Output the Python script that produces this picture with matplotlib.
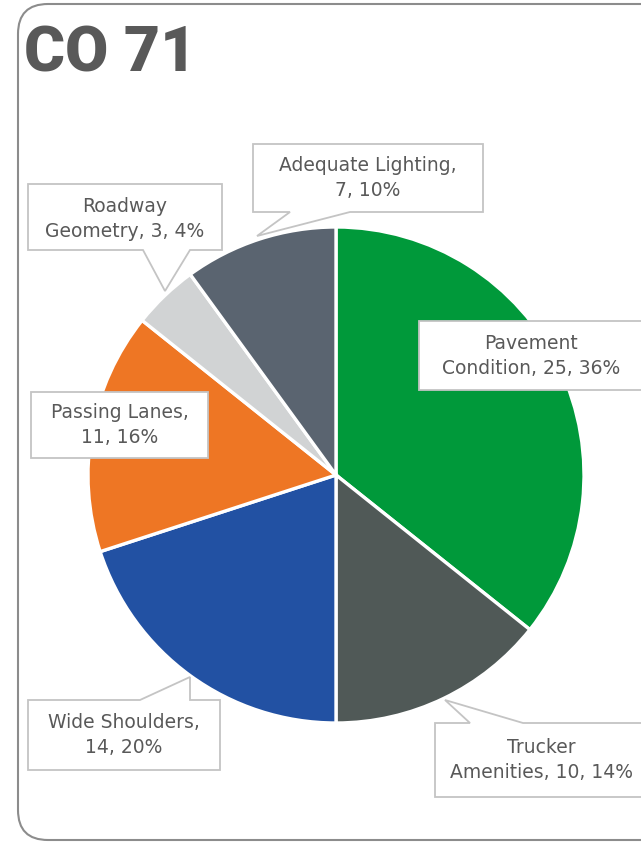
import matplotlib
matplotlib.use("Agg")
import matplotlib.pyplot as plt
from matplotlib.patches import Polygon, FancyBboxPatch

categories = ["Pavement Condition", "Trucker Amenities", "Wide Shoulders", "Passing Lanes",
              "Roadway Geometry", "Adequate Lighting"]
values = [25, 10, 14, 11, 3, 7]
labels = ["Pavement\nCondition, 25, 36%", "Trucker\nAmenities, 10, 14%", "Wide Shoulders,\n14, 20%",
          "Passing Lanes,\n11, 16%", "Roadway\nGeometry, 3, 4%", "Adequate Lighting,\n7, 10%"]
colors = ["#00993A", "#505957", "#2251A3", "#EE7624", "#D1D3D4", "#5A6470"]
title = "CO 71"

W, H = 641, 842
fig = plt.figure(figsize=(W / 100, H / 100), dpi=100)
ax = fig.add_axes([0, 0, 1, 1])

def Y(py):
    return H - py

# border
border = FancyBboxPatch((18, Y(840)), 660, 836, boxstyle="round,pad=0,rounding_size=30",
                        facecolor="white", edgecolor="#8C8C8C", linewidth=1.5, zorder=0)
ax.add_patch(border)

ax.pie(values, colors=colors, startangle=90, counterclock=False, center=(336, Y(475)),
       radius=248, wedgeprops=dict(edgecolor="white", linewidth=2.4), frame=False)
ax.set_xlim(0, W)
ax.set_ylim(0, H)
ax.set_aspect("equal")
ax.axis("off")

ax.text(24, Y(71), title, fontsize=45, fontweight=900, color="#595959",
        family=["Roboto", "DejaVu Sans"], ha="left", va="baseline")

# callout boxes: (x0, y0, x1, y1, pointer) in pixel coords
def callout(x0, y0, x1, y1, side=None, pa=None, pb=None, tip=None):
    if side == "bottom":
        pts = [(x0, y0), (x1, y0), (x1, y1), (pb, y1), tip, (pa, y1), (x0, y1)]
    elif side == "top":
        pts = [(x0, y0), (pa, y0), tip, (pb, y0), (x1, y0), (x1, y1), (x0, y1)]
    else:
        pts = [(x0, y0), (x1, y0), (x1, y1), (x0, y1)]
    poly = Polygon([(x, Y(y)) for x, y in pts], closed=True, facecolor="white",
                   edgecolor="#C4C4C4", linewidth=1.3, zorder=5)
    ax.add_patch(poly)

boxes = [
    dict(box=(419, 321, 660, 390), text=(531, 356)),
    dict(box=(435, 723, 660, 797), side="top", pa=470, pb=523, tip=(445, 700), text=(541, 760)),
    dict(box=(28, 700, 220, 770), side="top", pa=140, pb=190, tip=(190, 677), text=(124, 735)),
    dict(box=(31, 392, 208, 458), text=(120, 425)),
    dict(box=(28, 184, 222, 250), side="bottom", pa=143, pb=190, tip=(165, 291), text=(125, 219)),
    dict(box=(253, 144, 483, 212), side="bottom", pa=290, pb=350, tip=(257, 236), text=(368, 178)),
]

for lab, b in zip(labels, boxes):
    x0, y0, x1, y1 = b["box"]
    callout(x0, y0, x1, y1, b.get("side"), b.get("pa"), b.get("pb"), b.get("tip"))
    tx, ty = b["text"]
    ax.text(tx, Y(ty), lab, ha="center", va="center", fontsize=13.5, color="#595959",
            family="DejaVu Sans", linespacing=1.45, zorder=6)

fig.savefig("out.png", dpi=100)
